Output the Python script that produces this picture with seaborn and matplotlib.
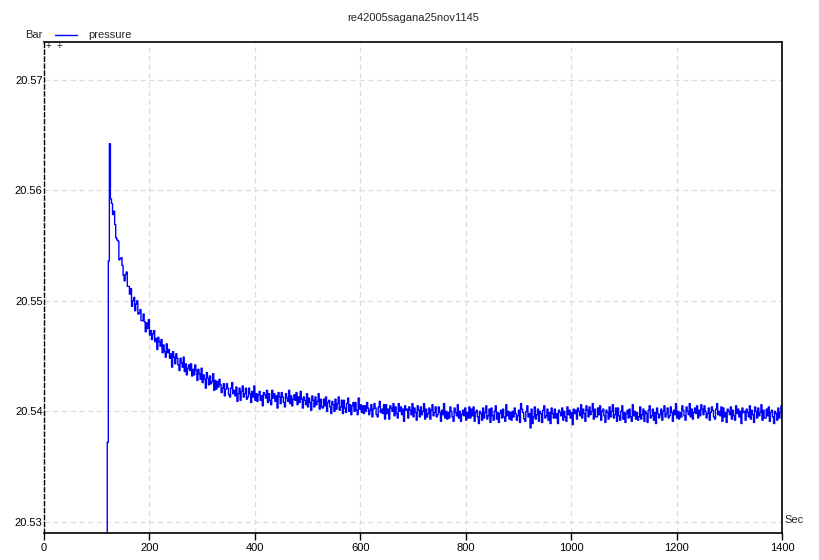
import numpy as np
import pandas as pd
import matplotlib
matplotlib.use("Agg")
import matplotlib.pyplot as plt
import seaborn as sns

# ---- data ----
title = "re42005sagana25nov1145"
y_label = "Bar"
x_label = "Sec"
series_name = "pressure"

start_times = [118, 120, 122, 124, 126]
start_values = [20.5200, 20.5372, 20.5536, 20.5642, 20.5592]

# regular samples every 2 s from 128 s to 1400 s
sample_t0 = 128
sample_dt = 2
values = [
    20.5588, 20.5578, 20.5581, 20.5569, 20.5557, 20.5555, 20.5554, 20.5537, 20.5538, 20.5539,
    20.5532, 20.5523, 20.5518, 20.5524, 20.5526, 20.5513, 20.5513, 20.5506, 20.5511, 20.5495,
    20.5500, 20.5503, 20.5491, 20.5497, 20.5500, 20.5488, 20.5489, 20.5492, 20.5482, 20.5482,
    20.5488, 20.5481, 20.5472, 20.5480, 20.5475, 20.5483, 20.5469, 20.5473, 20.5465, 20.5470,
    20.5473, 20.5463, 20.5466, 20.5456, 20.5467, 20.5463, 20.5459, 20.5465, 20.5453, 20.5460,
    20.5454, 20.5449, 20.5461, 20.5453, 20.5456, 20.5448, 20.5452, 20.5440, 20.5454, 20.5449,
    20.5443, 20.5452, 20.5448, 20.5442, 20.5437, 20.5448, 20.5444, 20.5440, 20.5449, 20.5436,
    20.5443, 20.5433, 20.5439, 20.5442, 20.5437, 20.5443, 20.5432, 20.5438, 20.5433, 20.5442,
    20.5437, 20.5428, 20.5438, 20.5434, 20.5429, 20.5439, 20.5426, 20.5433, 20.5429, 20.5421,
    20.5435, 20.5430, 20.5424, 20.5432, 20.5425, 20.5427, 20.5434, 20.5419, 20.5428, 20.5420,
    20.5427, 20.5422, 20.5429, 20.5424, 20.5417, 20.5421, 20.5425, 20.5414, 20.5420, 20.5425,
    20.5421, 20.5415, 20.5413, 20.5421, 20.5426, 20.5416, 20.5419, 20.5414, 20.5422, 20.5409,
    20.5416, 20.5421, 20.5410, 20.5418, 20.5423, 20.5413, 20.5416, 20.5421, 20.5411, 20.5413,
    20.5421, 20.5416, 20.5408, 20.5418, 20.5413, 20.5423, 20.5410, 20.5416, 20.5409, 20.5415,
    20.5418, 20.5410, 20.5414, 20.5405, 20.5417, 20.5415, 20.5412, 20.5419, 20.5408, 20.5416,
    20.5410, 20.5406, 20.5419, 20.5412, 20.5416, 20.5409, 20.5414, 20.5403, 20.5417, 20.5413,
    20.5407, 20.5417, 20.5413, 20.5408, 20.5404, 20.5416, 20.5412, 20.5409, 20.5419, 20.5407,
    20.5414, 20.5405, 20.5411, 20.5415, 20.5410, 20.5417, 20.5406, 20.5413, 20.5408, 20.5418,
    20.5411, 20.5403, 20.5413, 20.5410, 20.5406, 20.5416, 20.5404, 20.5412, 20.5408, 20.5401,
    20.5414, 20.5410, 20.5404, 20.5413, 20.5406, 20.5409, 20.5416, 20.5402, 20.5411, 20.5404,
    20.5403, 20.5411, 20.5405, 20.5413, 20.5400, 20.5408, 20.5410, 20.5404, 20.5398, 20.5409,
    20.5406, 20.5400, 20.5411, 20.5402, 20.5407, 20.5413, 20.5401, 20.5404, 20.5410, 20.5398,
    20.5410, 20.5403, 20.5399, 20.5407, 20.5412, 20.5400, 20.5406, 20.5397, 20.5405, 20.5408,
    20.5400, 20.5408, 20.5401, 20.5397, 20.5412, 20.5402, 20.5406, 20.5399, 20.5405, 20.5398,
    20.5405, 20.5400, 20.5408, 20.5403, 20.5397, 20.5401, 20.5406, 20.5395, 20.5402, 20.5407,
    20.5403, 20.5397, 20.5395, 20.5404, 20.5409, 20.5399, 20.5402, 20.5398, 20.5406, 20.5393,
    20.5406, 20.5398, 20.5402, 20.5393, 20.5405, 20.5403, 20.5400, 20.5407, 20.5396, 20.5404,
    20.5398, 20.5394, 20.5407, 20.5400, 20.5404, 20.5397, 20.5402, 20.5391, 20.5405, 20.5401,
    20.5402, 20.5394, 20.5404, 20.5401, 20.5397, 20.5407, 20.5395, 20.5403, 20.5399, 20.5392,
    20.5405, 20.5401, 20.5395, 20.5404, 20.5397, 20.5400, 20.5407, 20.5393, 20.5402, 20.5395,
    20.5398, 20.5403, 20.5393, 20.5401, 20.5406, 20.5396, 20.5399, 20.5404, 20.5395, 20.5397,
    20.5404, 20.5399, 20.5391, 20.5401, 20.5397, 20.5407, 20.5394, 20.5400, 20.5393, 20.5399,
    20.5394, 20.5404, 20.5400, 20.5395, 20.5391, 20.5403, 20.5399, 20.5396, 20.5406, 20.5394,
    20.5400, 20.5391, 20.5397, 20.5401, 20.5396, 20.5403, 20.5392, 20.5399, 20.5394, 20.5404,
    20.5394, 20.5402, 20.5396, 20.5404, 20.5391, 20.5399, 20.5401, 20.5395, 20.5389, 20.5400,
    20.5398, 20.5392, 20.5403, 20.5394, 20.5399, 20.5405, 20.5393, 20.5396, 20.5402, 20.5390,
    20.5403, 20.5396, 20.5392, 20.5400, 20.5405, 20.5393, 20.5399, 20.5390, 20.5398, 20.5401,
    20.5394, 20.5402, 20.5395, 20.5391, 20.5406, 20.5396, 20.5400, 20.5393, 20.5399, 20.5392,
    20.5400, 20.5395, 20.5403, 20.5398, 20.5392, 20.5396, 20.5401, 20.5390, 20.5407, 20.5402,
    20.5399, 20.5393, 20.5391, 20.5400, 20.5405, 20.5395, 20.5398, 20.5385, 20.5402, 20.5389,
    20.5395, 20.5404, 20.5393, 20.5397, 20.5402, 20.5391, 20.5400, 20.5398, 20.5390, 20.5401,
    20.5405, 20.5394, 20.5396, 20.5402, 20.5392, 20.5399, 20.5389, 20.5403, 20.5398, 20.5394,
    20.5402, 20.5394, 20.5398, 20.5389, 20.5401, 20.5399, 20.5396, 20.5403, 20.5392, 20.5400,
    20.5395, 20.5391, 20.5404, 20.5397, 20.5401, 20.5394, 20.5399, 20.5388, 20.5402, 20.5398,
    20.5401, 20.5393, 20.5403, 20.5400, 20.5396, 20.5406, 20.5394, 20.5402, 20.5398, 20.5391,
    20.5405, 20.5401, 20.5395, 20.5404, 20.5397, 20.5400, 20.5407, 20.5393, 20.5402, 20.5395,
    20.5395, 20.5403, 20.5397, 20.5405, 20.5392, 20.5400, 20.5402, 20.5396, 20.5390, 20.5401,
    20.5399, 20.5393, 20.5404, 20.5395, 20.5400, 20.5406, 20.5394, 20.5397, 20.5403, 20.5391,
    20.5403, 20.5396, 20.5392, 20.5400, 20.5405, 20.5393, 20.5399, 20.5390, 20.5398, 20.5401,
    20.5394, 20.5402, 20.5395, 20.5391, 20.5406, 20.5396, 20.5400, 20.5393, 20.5399, 20.5392,
    20.5395, 20.5404, 20.5393, 20.5397, 20.5402, 20.5391, 20.5400, 20.5398, 20.5390, 20.5401,
    20.5405, 20.5394, 20.5396, 20.5402, 20.5392, 20.5399, 20.5389, 20.5403, 20.5398, 20.5394,
    20.5397, 20.5402, 20.5392, 20.5400, 20.5405, 20.5395, 20.5398, 20.5403, 20.5394, 20.5396,
    20.5404, 20.5399, 20.5391, 20.5401, 20.5397, 20.5407, 20.5394, 20.5400, 20.5393, 20.5399,
    20.5395, 20.5405, 20.5401, 20.5396, 20.5392, 20.5404, 20.5400, 20.5397, 20.5407, 20.5395,
    20.5402, 20.5393, 20.5399, 20.5403, 20.5398, 20.5405, 20.5394, 20.5401, 20.5396, 20.5406,
    20.5402, 20.5397, 20.5405, 20.5400, 20.5394, 20.5398, 20.5403, 20.5392, 20.5399, 20.5404,
    20.5401, 20.5395, 20.5393, 20.5402, 20.5407, 20.5397, 20.5400, 20.5396, 20.5404, 20.5391,
    20.5403, 20.5395, 20.5399, 20.5390, 20.5402, 20.5400, 20.5397, 20.5404, 20.5393, 20.5401,
    20.5396, 20.5392, 20.5405, 20.5398, 20.5402, 20.5395, 20.5400, 20.5389, 20.5403, 20.5399,
    20.5400, 20.5392, 20.5402, 20.5399, 20.5395, 20.5405, 20.5393, 20.5401, 20.5397, 20.5390,
    20.5404, 20.5400, 20.5394, 20.5403, 20.5396, 20.5399, 20.5406, 20.5392, 20.5401, 20.5394,
    20.5394, 20.5402, 20.5396, 20.5404, 20.5391, 20.5399, 20.5401, 20.5395, 20.5389, 20.5400,
    20.5398, 20.5392, 20.5403, 20.5394, 20.5399, 20.5405, 20.5393,
]

x_ticks = [0, 200, 400, 600, 800, 1000, 1200, 1400]
y_ticks = [20.53, 20.54, 20.55, 20.56, 20.57]
y_tick_labels = ["20.53", "20.54", "20.55", "20.56", "20.57"]

# ---- build frame ----
sample_times = sample_t0 + sample_dt * np.arange(len(values))
df = pd.DataFrame({
    "t": list(start_times) + list(sample_times),
    "p": list(start_values) + list(values),
})

sns.set_style("white")
plt.rcParams["font.family"] = ["Liberation Sans", "DejaVu Sans"]
plt.rcParams["font.size"] = 8

fig = plt.figure(figsize=(8.19, 5.60), dpi=100)
ax = fig.add_axes([44 / 819, 1 - 533 / 560, (782 - 44) / 819, (533 - 42) / 560])

sns.lineplot(data=df, x="t", y="p", ax=ax, color="#0000ff", linewidth=1.0,
             drawstyle="steps-post", estimator=None, sort=False, legend=False)

ax.set_xlim(0, 1400)
ax.set_ylim(20.5290, 20.5734)
ax.set_xticks(x_ticks)
ax.set_xticklabels([str(v) for v in x_ticks], fontsize=8, color="black")
ax.set_yticks(y_ticks)
ax.set_yticklabels(y_tick_labels, fontsize=8, color="black")
ax.set_xlabel("")
ax.set_ylabel("")

ax.grid(True, color="#dcdcdc", linestyle=(0, (4, 3)), linewidth=0.9)
ax.tick_params(axis="x", direction="out", length=5, width=1, color="black", pad=2, bottom=True)
ax.tick_params(axis="y", length=0, pad=1, left=True)

for side in ["top", "right", "bottom"]:
    ax.spines[side].set_color("black")
    ax.spines[side].set_linewidth(1.2)
ax.spines["left"].set_color("black")
ax.spines["left"].set_linewidth(1.0)
ax.spines["left"].set_linestyle((0, (3, 2)))

fig.text(413 / 819, 1 - 18 / 560, title, ha="center", va="center", fontsize=8)
fig.text(43 / 819, 1 - 35 / 560, y_label, ha="right", va="center", fontsize=8)
fig.add_artist(plt.Line2D([55 / 819, 77 / 819], [1 - 35 / 560, 1 - 35 / 560],
                          color="#0000ff", linewidth=1.0))
fig.text(88 / 819, 1 - 35 / 560, series_name, ha="left", va="center", fontsize=8)
fig.text(784 / 819, 1 - 520 / 560, x_label, ha="left", va="center", fontsize=8)
fig.text(48 / 819, 1 - 46 / 560, "+", ha="center", va="center", fontsize=7)
fig.text(59 / 819, 1 - 46 / 560, "+", ha="center", va="center", fontsize=7)

fig.savefig("out.png", dpi=100)
